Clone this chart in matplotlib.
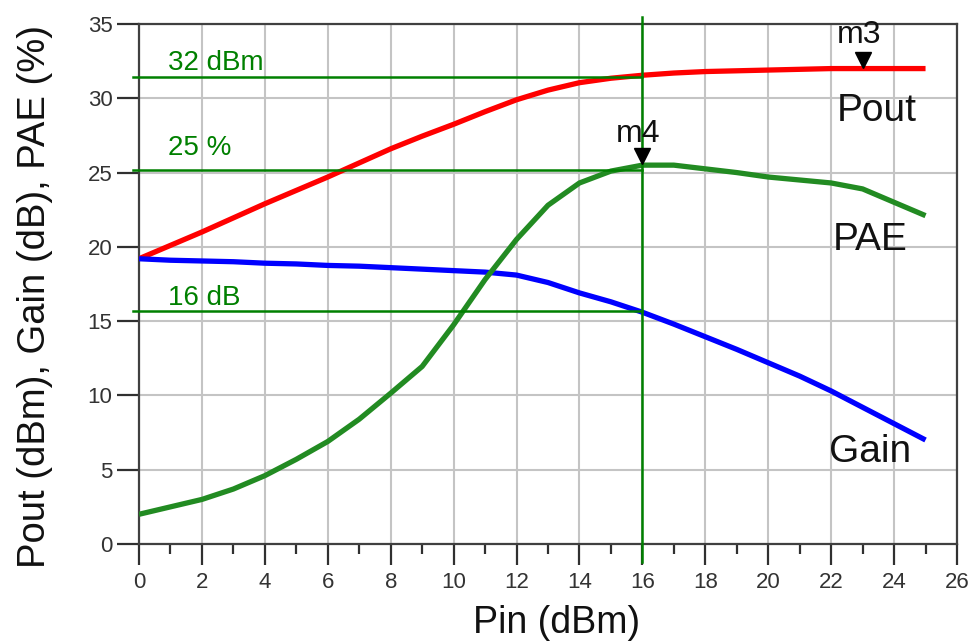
import matplotlib
matplotlib.use("Agg")
import matplotlib.pyplot as plt
from matplotlib.ticker import MultipleLocator

plt.rcParams['font.family'] = ['Liberation Sans', 'DejaVu Sans']

pin = [0, 1, 2, 3, 4, 5, 6, 7, 8, 9, 10, 11, 12, 13, 14, 15, 16, 17, 18, 19, 20, 21, 22, 23, 24, 25]
pout = [19.2, 20.1, 21.0, 21.95, 22.9, 23.8, 24.7, 25.65, 26.6, 27.45, 28.25, 29.1, 29.9, 30.55, 31.05, 31.35, 31.55, 31.7, 31.8, 31.85, 31.9, 31.95, 32.0, 32.0, 32.0, 32.0]
gain = [19.2, 19.1, 19.05, 19.0, 18.9, 18.85, 18.75, 18.7, 18.6, 18.5, 18.4, 18.3, 18.1, 17.6, 16.9, 16.3, 15.6, 14.8, 13.95, 13.1, 12.2, 11.3, 10.3, 9.2, 8.1, 7.0]
pae = [2.0, 2.5, 3.0, 3.7, 4.6, 5.7, 6.9, 8.4, 10.15, 11.95, 14.75, 17.8, 20.5, 22.8, 24.3, 25.1, 25.5, 25.5, 25.25, 25.0, 24.7, 24.5, 24.3, 23.9, 23.0, 22.1]

marker_x = 16
marker_levels = [31.45, 25.2, 15.65]
marker_texts = ["32 dBm", "25 %", "16 dB"]
marker_text_y = [31.9, 26.2, 16.1]
m3_x, m3_y = 23, 32.0
m4_x, m4_y = 16, 25.5

fig = plt.figure(figsize=(9.73, 6.44), dpi=100)
ax = fig.add_axes([139 / 973, 1 - 544 / 644, (957 - 139) / 973, (544 - 24) / 644])

ax.set_xlim(0, 26)
ax.set_ylim(0, 35)
ax.xaxis.set_major_locator(MultipleLocator(2))
ax.xaxis.set_minor_locator(MultipleLocator(1))
ax.yaxis.set_major_locator(MultipleLocator(5))
ax.grid(True, which='major', color='#c4c4c4', lw=1.5, zorder=0)
ax.set_axisbelow(True)
for s in ax.spines.values():
    s.set_color('#404040')
    s.set_linewidth(1.6)
ax.tick_params(axis='y', which='major', direction='out', length=16, width=1.6,
               color='#303030', labelsize=16, labelcolor='#333333', pad=3)
ax.tick_params(axis='x', which='major', direction='out', length=15, width=1.6,
               color='#303030', labelsize=16, labelcolor='#333333', pad=5)
ax.tick_params(axis='x', which='minor', direction='out', length=7, width=1.6, color='#303030')

ax.plot(pin, pout, color='#ff0000', lw=3.8, zorder=4, solid_capstyle='butt')
ax.plot(pin, gain, color='#0000ff', lw=3.8, zorder=4, solid_capstyle='butt')
ax.plot(pin, pae, color='#228b22', lw=3.8, zorder=4, solid_capstyle='butt')

# marker lines
for lvl, txt, ty in zip(marker_levels, marker_texts, marker_text_y):
    ax.plot([-0.2, marker_x], [lvl, lvl], color='#008000', lw=1.8, clip_on=False, zorder=5)
    ax.text(0.92, ty, txt, color='#008000', fontsize=20, ha='left', va='baseline', zorder=6)
ax.plot([marker_x, marker_x], [-1.2, 35.45], color='#008000', lw=1.8, clip_on=False, zorder=5)

# markers m3, m4
ax.plot([m3_x], [m3_y + 0.6], marker='v', color='black', markersize=12, zorder=7, clip_on=False)
ax.text(22.9, 33.7, "m3", fontsize=23, ha='center', va='baseline', color='#111111', zorder=7)
ax.plot([m4_x], [m4_y + 0.6], marker='v', color='black', markersize=12, zorder=7, clip_on=False)
ax.text(15.87, 27.05, "m4", fontsize=23, ha='center', va='baseline', color='#111111', zorder=7)

# curve labels
ax.text(22.19, 28.5, "Pout", fontsize=28, ha='left', va='baseline', color='#111111')
ax.text(22.06, 19.8, "PAE", fontsize=28, ha='left', va='baseline', color='#111111')
ax.text(21.93, 5.5, "Gain", fontsize=28, ha='left', va='baseline', color='#111111')

fig.text(557 / 973, 1 - 623 / 644, "Pin (dBm)", fontsize=27, color='#111111', ha='center', va='center')
fig.text(35 / 973, 1 - 296 / 644, "Pout (dBm), Gain (dB), PAE (%)", fontsize=27.5, color='#111111',
         ha='center', va='center', rotation=90)

fig.savefig("out.png", dpi=100)
